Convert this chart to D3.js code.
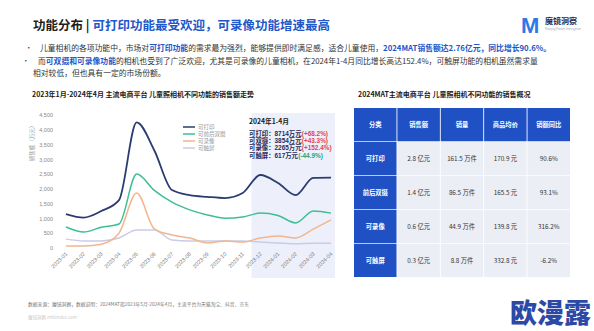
<!DOCTYPE html>
<html>
<head>
<meta charset="utf-8">
<script src="https://cdn.jsdelivr.net/npm/d3@7"></script>
<style>
  body { margin: 0; background: #fff; }
  svg { display: block; font-family: "Noto Sans CJK SC", "Noto Sans", sans-serif; }
</style>
</head>
<body>
<div id="chart"></div>
<script>
// 数据
const months = ["2023-01","2023-02","2023-03","2023-04","2023-05","2023-06","2023-07","2023-08",
  "2023-09","2023-10","2023-11","2023-12","2024-01","2024-02","2024-03","2024-04"];
const seriesNames = ["可打印", "可前后双摄", "可录像", "可触屏"];
const printVals  = [1150, 1030, 1250, 1620, 4250, 3300, 1960, 1790, 1730, 1690, 1860, 2470, 2200, 1790, 2370, 2380];
const dualVals   = [710, 540, 700, 810, 2500, 1950, 1550, 1290, 1120, 1010, 1050, 1180, 1100, 850, 1250, 1180];
const recordVals = [70, 70, 130, 500, 1860, 650, 440, 340, 170, 240, 200, 340, 410, 340, 640, 950];
const touchVals  = [300, 240, 240, 340, 610, 610, 270, 240, 240, 240, 240, 200, 170, 140, 160, 160];
const seriesColors = ["#2b3c70", "#3dbf93", "#f2b58c", "#c9cce8"];
const yTicks = [0, 500, 1000, 1500, 2000, 2500, 3000, 3500, 4000, 4500];

const noteLabels = ["可打印：", "可双摄：", "可录像：", "可触屏："];
const noteValues = ["8714万元", "3854万元", "2265万元", "617万元"];
const noteChanges = ["(+68.2%)", "(+43.3%)", "(+152.4%)", "(-44.9%)"];

const tableHeader = ["分类", "销售额", "销量", "商品均价", "销额同比"];
const tableRows = [
  ["可打印", "2.8 亿元", "161.5 万件", "170.9 元", "90.6%"],
  ["前后双摄", "1.4 亿元", "86.5 万件", "165.5 元", "93.1%"],
  ["可录像", "0.6 亿元", "44.9 万件", "139.8 元", "316.2%"],
  ["可触屏", "0.3 亿元", "8.8 万件", "332.8 元", "-6.2%"]
];

const W = 594, H = 331;
const blue = "#1f50c4";

const svg = d3.select("#chart").append("svg").attr("width", W).attr("height", H);

// 标题
const title = svg.append("text").attr("x", 33).attr("y", 30)
  .style("font-size", "12.5px").style("font-weight", "700");
title.append("tspan").attr("fill", "#1c1c1c").text("功能分布 | ");
title.append("tspan").attr("fill", "#2157c9").text("可打印功能最受欢迎，可录像功能增速最高");

// logo
svg.append("text").attr("x", 521).attr("y", 33).attr("fill", "#2f78e6")
  .style("font-size", "22px").style("font-weight", "900").style("font-family", "Arial, sans-serif").text("M");
svg.append("text").attr("x", 545).attr("y", 24).attr("fill", "#1a2a55")
  .style("font-size", "8px").style("font-weight", "700").text("魔镜洞察");
svg.append("text").attr("x", 545).attr("y", 30).attr("fill", "#9aa3b8")
  .style("font-size", "2.8px").text("Moojing Market Intelligence");

// 要点
const bullets = [
  { x: 40, y: 51, dot: 25, parts: [
    ["儿童相机的各项功能中，市场对", false], ["可打印功能", true], ["的需求最为强烈，能够提供即时满足感，适合儿童使用，", false],
    ["2024MAT销售额达2.76亿元，同比增长90.6%。", true]] },
  { x: 38, y: 64, dot: 22, parts: [
    ["而", false], ["可双摄和可录像功能", true], ["的相机也受到了广泛欢迎，尤其是可录像的儿童相机，在2024年1-4月同比增长高达152.4%，可触屏功能的相机虽然需求量", false]] },
  { x: 33, y: 76, parts: [["相对较低，但也具有一定的市场份额。", false]] }
];
bullets.forEach(b => {
  if (b.dot) svg.append("text").attr("x", b.dot).attr("y", b.y).attr("fill", "#444").style("font-size", "7.5px").text("•");
  const t = svg.append("text").attr("x", b.x).attr("y", b.y).style("font-size", "7.8px");
  b.parts.forEach(p => t.append("tspan").attr("fill", p[1] ? "#2356c8" : "#333")
    .style("font-weight", p[1] ? "700" : "400").text(p[0]));
});

// 折线图
svg.append("text").attr("x", 32).attr("y", 97).attr("fill", "#1a1a1a")
  .style("font-size", "7px").style("font-weight", "700")
  .text("2023年1月-2024年4月 主流电商平台 儿童照相机不同功能的销售额走势");

const x = d3.scalePoint().domain(months).range([66, 331]);
const y = d3.scaleLinear().domain([0, 4500]).range([248, 115]);

// 阴影区域 2024年1-4月
const step = x.step();
svg.append("rect")
  .attr("x", x("2023-12") - step / 2)
  .attr("y", 113)
  .attr("width", x("2024-04") + 4 - (x("2023-12") - step / 2))
  .attr("height", 165)
  .attr("fill", "#edf0fa");

svg.append("g").attr("transform", "translate(56,0)")
  .call(d3.axisLeft(y).tickValues(yTicks).tickSize(0).tickPadding(3))
  .call(g => g.select(".domain").remove())
  .selectAll("text").attr("fill", "#888").style("font-size", "5.5px");

svg.append("text").attr("transform", "translate(34,142) rotate(-90)")
  .attr("text-anchor", "middle").attr("fill", "#999").style("font-size", "5.5px")
  .text("销售额（万元）");

svg.append("g").attr("transform", "translate(0,253)")
  .call(d3.axisBottom(x).tickSize(0).tickPadding(0))
  .call(g => g.select(".domain").remove())
  .selectAll("text")
  .attr("y", 0).attr("x", 0).attr("dy", "0.35em")
  .attr("transform", "rotate(-45)")
  .style("text-anchor", "end")
  .attr("fill", "#777").style("font-size", "5.5px");

const line = d3.line().x((d, i) => x(months[i])).y(d => y(d)).curve(d3.curveMonotoneX);
const allSeries = [printVals, dualVals, recordVals, touchVals];
[3, 2, 1, 0].forEach(i => {
  svg.append("path").datum(allSeries[i]).attr("d", line)
    .attr("fill", "none").attr("stroke", seriesColors[i])
    .attr("stroke-width", i === 0 ? 1.8 : 1.5);
});

// 图例
seriesNames.forEach((n, i) => {
  const ly = 127 + i * 7;
  svg.append("line").attr("x1", 183).attr("x2", 195).attr("y1", ly).attr("y2", ly)
    .attr("stroke", seriesColors[i]).attr("stroke-width", 1.5);
  svg.append("text").attr("x", 198).attr("y", ly).attr("dy", "0.35em")
    .attr("fill", "#999").style("font-size", "5.5px").text(n);
});

// 注释
svg.append("text").attr("x", 249).attr("y", 124).attr("fill", "#1a1a1a")
  .style("font-size", "6.8px").style("font-weight", "700").text("2024年1-4月");
noteLabels.forEach((l, i) => {
  const ny = 136 + i * 7.2;
  const a = svg.append("text").attr("x", 249).attr("y", ny)
    .style("font-family", "'Liberation Sans', 'Noto Sans CJK SC', sans-serif")
    .style("font-size", "6.4px").style("font-weight", "700")
    .attr("fill", "#1f2d5a").text(l + noteValues[i]);
  const w = a.node().getComputedTextLength();
  svg.append("text").attr("x", 249 + w + 0.3).attr("y", ny)
    .style("font-family", "'Liberation Sans', 'Noto Sans CJK SC', sans-serif")
    .style("font-size", "6.4px").style("font-weight", "700")
    .attr("fill", i === 3 ? "#2aa36b" : "#e0444e").text(noteChanges[i]);
});

// 表格
svg.append("text").attr("x", 358).attr("y", 97).attr("fill", "#1a1a1a")
  .style("font-size", "7px").style("font-weight", "700")
  .text("2024MAT主流电商平台 儿童照相机不同功能的销售概况");

const cx = d3.scaleBand().domain(d3.range(tableHeader.length)).range([354, 570]).paddingInner(0.02);
const rowKeys = d3.range(tableRows.length + 1);
const cy = d3.scaleBand().domain(rowKeys).range([108, 277]).paddingInner(0.02);
const allRows = [tableHeader, ...tableRows];

allRows.forEach((row, r) => {
  row.forEach((cell, c) => {
    const isBlue = r === 0 || c === 0;
    svg.append("rect").attr("x", cx(c)).attr("y", cy(r))
      .attr("width", cx.bandwidth()).attr("height", cy.bandwidth())
      .attr("fill", isBlue ? blue : "#eceef6");
    svg.append("text").attr("x", cx(c) + cx.bandwidth() / 2).attr("y", cy(r) + cy.bandwidth() / 2)
      .attr("dy", "0.35em").attr("text-anchor", "middle")
      .attr("fill", isBlue ? "#fff" : "#333")
      .style("font-size", "6.3px").style("font-weight", isBlue ? "700" : "400")
      .text(cell);
  });
});

// 页脚
svg.append("text").attr("x", 28).attr("y", 306).attr("fill", "#777").style("font-size", "4.8px")
  .text("数据来源：魔镜洞察，数据说明：2024MAT指2023年5月-2024年4月，主流平台为天猫淘宝、抖音、京东");
svg.append("text").attr("x", 28).attr("y", 319).attr("fill", "#ccc").style("font-size", "4.5px")
  .text("魔镜洞察    mktindex.com");

// 水印
svg.append("text").attr("x", 510).attr("y", 323).attr("fill", "#2c49a6")
  .style("font-size", "27px").style("font-weight", "900").text("欧漫露");
</script>
</body>
</html>
